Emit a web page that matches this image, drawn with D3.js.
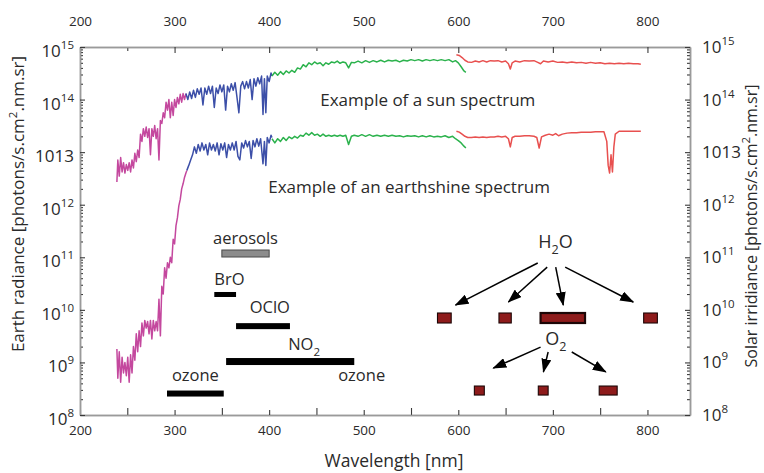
<!DOCTYPE html>
<html>
<head>
<meta charset="utf-8">
<script src="https://cdn.jsdelivr.net/npm/d3@7"></script>
<style>
  body { margin: 0; background: #fff; }
  svg { display: block; font-family: "Open Sans", sans-serif; }
</style>
</head>
<body>
<svg id="chart"></svg>
<script>
// Sun and earthshine spectra with trace-gas fitting windows.
// Spectra are [wavelength nm, photons/s.cm2.nm.sr].

const xTicks = [200, 300, 400, 500, 600, 700, 800];
const yTicks = [1e8, 1e9, 1e10, 1e11, 1e12, 1e13, 1e14, 1e15];
// The original figure prints 10^13 as "1013" on both axes
const yTickLabels = ["10^8", "10^9", "10^10", "10^11", "10^12", "1013", "10^14", "10^15"];

// ---- Sun spectrum ----
const sunUV = [
  [239, 2.7e12], [240, 7.1e12], [241.5, 3.5e12], [243, 7.9e12], [244.5, 4.2e12], [246, 6.3e12],
  [247.5, 4.0e12], [249, 5.8e12], [250.5, 4.5e12], [252, 6.3e12], [253.5, 4.2e12], [255, 7.1e12],
  [256.5, 5.0e12], [258, 9.5e12], [259.5, 6.6e12], [261, 1.1e13], [262.5, 7.9e12], [264, 2.2e13],
  [265.5, 1.6e13], [267, 2.8e13], [268.5, 2.0e13], [270, 3.0e13], [271.5, 1.9e13], [273, 2.8e13],
  [274.5, 8.9e12], [276, 2.8e13], [277.5, 2.0e13], [279, 3.2e13], [280.5, 1.8e13], [282, 2.8e13],
  [283.5, 7.1e12], [285, 4.0e13], [286.5, 3.5e13], [288, 5.6e13], [289.5, 4.5e13], [291, 8.9e13],
  [292.5, 6.3e13], [294, 1.0e14], [295.5, 4.5e13], [297, 8.9e13], [298.5, 5.0e13], [300, 1.0e14],
  [301.5, 7.1e13], [303, 1.1e14], [304.5, 8.3e13], [306, 1.26e14], [307.5, 8.9e13], [309, 1.3e14],
  [310.5, 1.0e14], [312, 1.3e14]
];
const sunBlue = [
  [312, 1.3e14], [314, 1.0e14], [316, 1.4e14], [318, 1.05e14], [320, 1.5e14], [322, 1.1e14],
  [324, 1.6e14], [326, 1.26e14], [328, 1.66e14], [330, 7.9e13], [332, 1.66e14], [334, 1.26e14],
  [336, 1.8e14], [338, 1.3e14], [340, 1.8e14], [342, 7.1e13], [344, 1.66e14], [346, 1.3e14],
  [348, 1.9e14], [350, 1.4e14], [352, 1.9e14], [354, 6.3e13], [356, 1.8e14], [358, 1.4e14],
  [360, 2.0e14], [362, 1.5e14], [364, 2.1e14], [366, 1.1e14], [368, 5.6e13], [370, 1.8e14],
  [372, 2.2e14], [374, 1.6e14], [376, 2.2e14], [378, 1.66e14], [380, 2.4e14], [382, 1.0e14],
  [384, 2.5e14], [386, 1.8e14], [388, 2.6e14], [390, 2.0e14], [392, 2.8e14], [393.5, 5.2e13],
  [395, 2.5e14], [396.5, 5.6e13], [398, 2.8e14], [400, 2.2e14], [402, 3.2e14], [403, 2.8e14]
];
const sunVis = [
  [403, 2.8e14], [406, 3.3e14], [409, 2.9e14], [412, 3.4e14], [415, 3.0e14], [418, 3.5e14],
  [421, 3.2e14], [424, 3.6e14], [427, 3.3e14], [430, 4.0e14], [433, 3.8e14], [436, 4.6e14],
  [439, 4.2e14], [442, 5.0e14], [445, 4.6e14], [448, 5.2e14], [451, 4.8e14], [454, 5.0e14],
  [457, 4.4e14], [460, 5.0e14], [463, 4.7e14], [466, 5.2e14], [469, 5.0e14], [472, 5.4e14],
  [475, 4.9e14], [478, 5.2e14], [481, 5.0e14], [484, 4.0e14], [487, 5.1e14], [490, 5.0e14],
  [494, 5.4e14], [498, 5.0e14], [502, 5.5e14], [506, 5.1e14], [510, 5.5e14], [514, 5.2e14],
  [518, 5.6e14], [522, 5.2e14], [526, 5.6e14], [530, 5.4e14], [534, 5.6e14], [538, 5.2e14],
  [542, 5.6e14], [546, 5.4e14], [550, 5.75e14], [554, 5.5e14], [558, 5.75e14], [562, 5.4e14],
  [566, 5.75e14], [570, 5.5e14], [574, 5.75e14], [578, 5.5e14], [582, 5.75e14], [586, 5.5e14],
  [590, 5.75e14], [594, 5.2e14], [597, 5.5e14], [600, 5.0e14], [603, 4.2e14], [606, 3.5e14],
  [608, 3.3e14]
];
const sunNIR = [
  [598, 7.1e14], [601, 6.9e14], [604, 6.3e14], [607, 5.6e14], [610, 5.2e14], [614, 5.1e14],
  [618, 5.4e14], [622, 5.2e14], [626, 5.5e14], [630, 5.2e14], [634, 5.5e14], [638, 5.4e14],
  [642, 5.5e14], [646, 5.2e14], [650, 5.4e14], [653, 4.8e14], [655, 3.8e14], [657, 5.0e14],
  [660, 5.4e14], [665, 5.2e14], [670, 5.5e14], [675, 5.4e14], [680, 5.5e14], [684, 5.1e14],
  [687, 4.8e14], [690, 5.4e14], [695, 5.2e14], [700, 5.4e14], [705, 5.1e14], [710, 5.2e14],
  [715, 5.0e14], [720, 5.2e14], [725, 5.0e14], [730, 5.1e14], [735, 4.9e14], [740, 5.1e14],
  [745, 4.9e14], [750, 5.0e14], [755, 4.8e14], [760, 4.9e14], [765, 4.8e14], [770, 4.9e14],
  [775, 4.8e14], [780, 4.9e14], [785, 4.8e14], [790, 4.8e14], [793, 4.7e14]
];

// ---- Earthshine spectrum ----
const earthUV = [
  [239, 1.8e9], [240, 5.0e8], [241.5, 1.6e9], [243, 4.2e8], [244.5, 1.26e9], [246, 6.3e8],
  [247.5, 1.0e9], [249, 5.6e8], [250.5, 1.26e9], [252, 4.2e8], [253.5, 1.4e9], [255, 6.3e8],
  [256.5, 2.0e9], [258, 1.1e9], [259.5, 3.5e9], [261, 1.6e9], [262.5, 4.0e9], [264, 2.0e9],
  [265.5, 5.6e9], [267, 3.2e9], [268.5, 6.3e9], [270, 4.5e9], [271.5, 6.0e9], [273, 3.5e9],
  [274.5, 6.3e9], [276, 2.8e9], [277.5, 6.3e9], [279, 4.0e9], [280.5, 6.0e9], [282, 4.0e9],
  [283.5, 1.6e10], [285, 3.2e9], [286.5, 2.8e10], [288, 2.0e10], [289.5, 6.3e10], [291, 4.0e10],
  [292.5, 7.9e10], [294, 6.3e10], [295.5, 1.0e11], [297, 7.9e10], [298.5, 2.2e11], [300, 1.8e11],
  [301.5, 4.0e11], [303, 5.6e11], [304.5, 9.5e11], [306, 1.26e12], [307.5, 2.0e12], [309, 2.5e12],
  [310.5, 3.3e12], [312, 4.0e12], [313, 4.5e12]
];
const earthBlue = [
  [313, 4.5e12], [315, 5.6e12], [317, 7.1e12], [319, 8.9e12], [321, 1.26e13], [323, 9.5e12],
  [325, 1.4e13], [327, 1.05e13], [329, 1.5e13], [331, 1.1e13], [333, 1.4e13], [335, 8.9e12],
  [337, 1.5e13], [339, 1.1e13], [341, 1.4e13], [343, 1.05e13], [345, 1.5e13], [347, 8.9e12],
  [349, 1.45e13], [351, 1.1e13], [353, 1.5e13], [355, 7.9e12], [357, 1.4e13], [359, 1.1e13],
  [361, 1.5e13], [363, 1.1e13], [365, 1.6e13], [367, 8.3e12], [369, 7.1e12], [371, 1.5e13],
  [373, 1.2e13], [375, 1.66e13], [377, 1.26e13], [379, 1.6e13], [381, 7.6e12], [383, 1.66e13],
  [385, 1.26e13], [387, 1.8e13], [389, 1.3e13], [391, 1.8e13], [393.5, 6.0e12], [395, 1.6e13],
  [396.5, 5.6e12], [398, 1.9e13], [400, 1.5e13], [402, 2.1e13], [403, 1.9e13]
];
const earthVis = [
  [403, 1.8e13], [406, 1.5e13], [409, 1.8e13], [412, 1.6e13], [415, 1.9e13], [418, 1.66e13],
  [421, 1.95e13], [424, 1.8e13], [427, 2.0e13], [430, 1.85e13], [433, 2.1e13], [436, 2.0e13],
  [439, 2.3e13], [442, 2.1e13], [445, 2.35e13], [448, 2.1e13], [451, 2.2e13], [454, 2.0e13],
  [457, 2.2e13], [460, 2.0e13], [463, 2.1e13], [466, 2.0e13], [469, 2.1e13], [472, 2.0e13],
  [475, 2.1e13], [478, 2.0e13], [481, 2.1e13], [484, 1.4e13], [487, 2.0e13], [490, 2.1e13],
  [494, 2.0e13], [498, 2.15e13], [502, 2.0e13], [506, 2.15e13], [510, 2.0e13], [514, 2.1e13],
  [518, 2.0e13], [522, 2.1e13], [526, 2.0e13], [530, 2.1e13], [534, 2.0e13], [538, 2.05e13],
  [542, 1.95e13], [546, 2.05e13], [550, 2.0e13], [554, 2.05e13], [558, 1.95e13], [562, 2.05e13],
  [566, 1.95e13], [570, 2.05e13], [574, 1.95e13], [578, 2.0e13], [582, 1.95e13], [586, 2.05e13],
  [590, 1.9e13], [594, 2.0e13], [597, 1.8e13], [600, 1.66e13], [603, 1.5e13], [606, 1.3e13],
  [608, 1.2e13]
];
const earthNIR = [
  [598, 2.5e13], [601, 2.4e13], [604, 2.2e13], [607, 2.0e13], [610, 1.9e13], [614, 1.9e13],
  [618, 1.95e13], [622, 1.9e13], [626, 1.95e13], [630, 1.9e13], [634, 1.95e13], [638, 1.95e13],
  [642, 2.0e13], [646, 1.95e13], [650, 2.0e13], [653, 1.8e13], [655, 1.26e13], [657, 1.9e13],
  [660, 2.0e13], [665, 2.0e13], [670, 2.05e13], [675, 2.05e13], [680, 2.0e13], [683, 1.9e13],
  [685.5, 1.2e13], [688, 1.95e13], [692, 2.1e13], [696, 2.2e13], [700, 2.1e13], [703, 2.25e13],
  [706, 2.05e13], [710, 2.2e13], [715, 2.3e13], [720, 2.35e13], [725, 2.35e13], [730, 2.4e13],
  [735, 2.4e13], [740, 2.4e13], [745, 2.45e13], [750, 2.45e13], [754, 2.45e13], [757, 1.6e13],
  [758.5, 5.6e12], [760, 4.0e12], [761.5, 8.9e12], [763, 4.2e12], [764.5, 1.26e13], [766, 2.2e13],
  [770, 2.5e13], [775, 2.5e13], [780, 2.5e13], [785, 2.5e13], [790, 2.5e13], [793, 2.5e13]
];

// ---- Fitting windows (nm) and the level they are drawn at ----
const bandNames = ["aerosols", "BrO", "OClO", "NO2", "ozone"];
const bandFrom  = [350, 342, 365, 354.5, 292];
const bandTo    = [400, 365, 422, 490, 352];
const bandLevel = [1.18e11, 1.96e10, 4.9e9, 1.04e9, 2.56e8];

const h2oBands = [[578, 592.5], [643, 656], [687, 734], [796, 810.5]];
const h2oLevel = 7.0e9;
const o2Bands  = [[617, 627.5], [684.6, 695], [749, 768]];
const o2Level  = 2.92e8;

// arrows: [wl start, value start, wl tip, value tip]
const h2oArrows = [[684, 7.8e10, 597, 1.23e10], [694, 6.5e10, 653, 1.41e10],
                   [703, 6.5e10, 711, 1.23e10], [713, 6.5e10, 785, 1.41e10]];
const o2Arrows  = [[687, 1.96e9, 637, 7.8e8], [695, 1.58e9, 690, 6.6e8],
                   [720, 1.58e9, 756, 6.6e8]];

(function () {
  const W = 764, H = 473;
  const M = { top: 47, right: 74, bottom: 58, left: 80 };
  const innerW = W - M.left - M.right;
  const innerH = H - M.top - M.bottom;

  const PINK = "#c4489e", BLUE = "#3c4fa8", GREEN = "#2bb24c", RED = "#e8504f";
  const INK = "#2a2a2a", AXIS = "#9a9a9a";

  const svg = d3.select("#chart").attr("width", W).attr("height", H);
  const g = svg.append("g").attr("transform", `translate(${M.left},${M.top})`);

  const x = d3.scaleLinear().domain([200, 845]).range([0, innerW]);
  const y = d3.scaleLog().domain([1e8, 1e15]).range([innerH, 0]);

  // minor log ticks 2..9 x 10^k
  const minor = [];
  for (let k = 8; k < 15; k++) for (let m = 2; m <= 9; m++) minor.push(m * Math.pow(10, k));
  const x50 = d3.range(250, 845, 100);

  function styleAxis(sel) {
    sel.select(".domain").attr("stroke", AXIS).attr("stroke-width", 1.5);
    sel.selectAll(".tick line").attr("stroke", "#3a3a3a").attr("stroke-width", 1.1);
    sel.selectAll(".tick text").attr("fill", INK).attr("font-size", 13.5)
      .attr("font-family", "Open Sans, sans-serif");
  }

  // ---- X axes (ticks point inward) ----
  g.append("g").attr("transform", `translate(0,${innerH})`)
    .call(d3.axisBottom(x).tickValues(x50).tickSizeInner(-7).tickSizeOuter(0).tickFormat(""))
    .call(styleAxis);
  g.append("g").attr("transform", `translate(0,${innerH})`)
    .call(d3.axisBottom(x).tickValues(xTicks).tickSizeInner(-5).tickSizeOuter(0)
      .tickPadding(10).tickFormat(d3.format("d")))
    .call(styleAxis);

  g.append("g")
    .call(d3.axisTop(x).tickValues(x50).tickSizeInner(-4).tickSizeOuter(0).tickFormat(""))
    .call(styleAxis);
  g.append("g")
    .call(d3.axisTop(x).tickValues(xTicks).tickSizeInner(-6).tickSizeOuter(0)
      .tickPadding(21).tickFormat(d3.format("d")))
    .call(styleAxis);

  // ---- Y axes (labels drawn by hand for the superscripts) ----
  g.append("g")
    .call(d3.axisLeft(y).tickValues(minor).tickSizeInner(-3).tickSizeOuter(0).tickFormat(""))
    .call(styleAxis);
  g.append("g")
    .call(d3.axisLeft(y).tickValues(yTicks).tickSizeInner(-5).tickSizeOuter(0).tickFormat(""))
    .call(styleAxis);
  g.append("g").attr("transform", `translate(${innerW},0)`)
    .call(d3.axisRight(y).tickValues(minor).tickSizeInner(-3).tickSizeOuter(0).tickFormat(""))
    .call(styleAxis);
  g.append("g").attr("transform", `translate(${innerW},0)`)
    .call(d3.axisRight(y).tickValues(yTicks).tickSizeInner(-5).tickSizeOuter(0).tickFormat(""))
    .call(styleAxis);

  function powerLabel(sel, label) {
    const [base, exp] = label.split("^");
    sel.append("tspan").text(base);
    if (exp) sel.append("tspan").attr("dy", -8).attr("font-size", 11.5).text(exp);
  }

  yTicks.forEach((v, i) => {
    const l = g.append("text").attr("x", -6).attr("y", y(v) + 10)
      .attr("text-anchor", "end").attr("font-size", 17).attr("fill", INK);
    powerLabel(l, yTickLabels[i]);
    const r = g.append("text").attr("x", innerW + 12).attr("y", y(v) + 6)
      .attr("font-size", 17).attr("fill", INK);
    powerLabel(r, yTickLabels[i]);
  });

  // ---- Axis titles ----
  function unitTitle(sel, head) {
    sel.append("tspan").text(head + " [photons/s.cm");
    sel.append("tspan").attr("dy", -7).attr("font-size", 11.5).text("2");
    sel.append("tspan").attr("dy", 7).text(".nm.sr]");
  }
  unitTitle(svg.append("text")
    .attr("transform", "translate(24,204) rotate(-90)")
    .attr("text-anchor", "middle").attr("font-size", 17).attr("fill", INK), "Earth radiance");
  unitTitle(svg.append("text")
    .attr("transform", "translate(757,226) rotate(-90)")
    .attr("text-anchor", "middle").attr("font-size", 16).attr("fill", INK), "Solar irridiance");

  svg.append("text").attr("x", 394).attr("y", 467).attr("text-anchor", "middle")
    .attr("font-size", 17.5).attr("fill", INK).text("Wavelength [nm]");

  // ---- Spectra ----
  const line = d3.line().x(d => x(d[0])).y(d => y(d[1]));
  const segments = [
    [sunUV, PINK], [sunBlue, BLUE], [sunVis, GREEN], [sunNIR, RED],
    [earthUV, PINK], [earthBlue, BLUE], [earthVis, GREEN], [earthNIR, RED]
  ];
  segments.forEach(([pts, color]) => {
    g.append("path").datum(pts)
      .attr("fill", "none").attr("stroke", color).attr("stroke-width", 1.5)
      .attr("stroke-linejoin", "round").attr("d", line);
  });

  g.append("text").attr("x", x(454)).attr("y", y(7.6e13))
    .attr("font-size", 17).attr("fill", INK).text("Example of a sun spectrum");
  g.append("text").attr("x", x(399)).attr("y", y(1.66e12))
    .attr("font-size", 17).attr("fill", INK).text("Example of an earthshine spectrum");

  // chemical names: digits become subscripts
  function chem(sel, str) {
    str.split(/(\d+)/).filter(s => s).forEach(part => {
      if (/^\d+$/.test(part)) {
        sel.append("tspan").attr("dy", 6).attr("font-size", "0.7em").text(part);
      } else {
        const t = sel.append("tspan").text(part);
        if (sel.selectAll("tspan").size() > 1) t.attr("dy", -6);
      }
    });
  }

  // ---- Fitting windows ----
  const bandH = [7, 5, 6, 7, 6];
  // label placement: [anchor, wavelength, baseline offset from bar centre]
  const bandLabelAt = [
    ["middle", 375, -9.5], ["start", 342, -9.5], ["end", 422, -13],
    ["middle", 437, -11.5], ["middle", 322, -12.5]
  ];
  bandNames.forEach((name, i) => {
    const cy = y(bandLevel[i]);
    g.append("rect")
      .attr("x", x(bandFrom[i])).attr("y", cy - bandH[i] / 2)
      .attr("width", x(bandTo[i]) - x(bandFrom[i])).attr("height", bandH[i])
      .attr("fill", name === "aerosols" ? "#8c8c8c" : "#000")
      .attr("stroke", name === "aerosols" ? "#4a4a4a" : "none").attr("stroke-width", 1);
    const [anchor, wl, off] = bandLabelAt[i];
    const t = g.append("text").attr("x", x(wl)).attr("y", cy + off)
      .attr("text-anchor", anchor).attr("font-size", 16.5).attr("fill", INK);
    chem(t, name);
  });
  // second ozone label (Chappuis band) under the end of the NO2 window
  g.append("text").attr("x", x(473)).attr("y", y(4.4e8))
    .attr("font-size", 16.5).attr("fill", INK).text("ozone");

  // ---- H2O and O2 bands ----
  function boxes(list, level, h, thickIdx) {
    list.forEach(([a, b], i) => {
      g.append("rect")
        .attr("x", x(a)).attr("y", y(level) - h / 2)
        .attr("width", x(b) - x(a)).attr("height", h)
        .attr("fill", "#8e1b1b").attr("stroke", "#1c0606")
        .attr("stroke-width", i === thickIdx ? 2.2 : 1.1);
    });
  }
  boxes(h2oBands, h2oLevel, 10, 2);
  boxes(o2Bands, o2Level, 9, -1);

  svg.append("defs").append("marker")
    .attr("id", "head").attr("viewBox", "0 0 14 10")
    .attr("refX", 13).attr("refY", 5)
    .attr("markerWidth", 14).attr("markerHeight", 10)
    .attr("markerUnits", "userSpaceOnUse").attr("orient", "auto")
    .append("path").attr("d", "M0,0L14,5L0,10Z").attr("fill", "#000");

  [...h2oArrows, ...o2Arrows].forEach(([x0, y0, x1, y1]) => {
    g.append("line")
      .attr("x1", x(x0)).attr("y1", y(y0)).attr("x2", x(x1)).attr("y2", y(y1))
      .attr("stroke", "#000").attr("stroke-width", 1.5)
      .attr("marker-end", "url(#head)");
  });

  const h2o = g.append("text").attr("x", x(684.6)).attr("y", y(1.5e11))
    .attr("font-size", 18).attr("fill", INK);
  chem(h2o, "H2O");
  const o2 = g.append("text").attr("x", x(692)).attr("y", y(2.14e9))
    .attr("font-size", 18).attr("fill", INK);
  chem(o2, "O2");
})();
</script>
</body>
</html>
